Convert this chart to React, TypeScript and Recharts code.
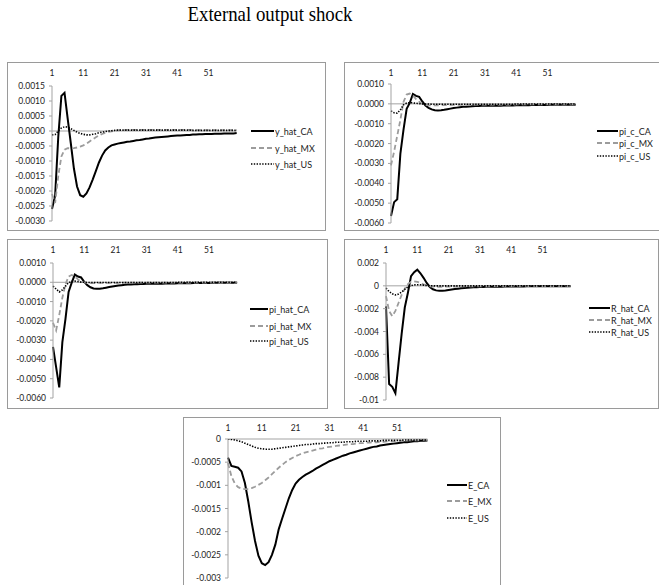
import React from 'react';
import { LineChart, Line, XAxis, YAxis, ReferenceLine, Legend } from 'recharts';

// Quarters after the shock
const periods: number[] = Array.from({ length: 60 }, (_, i) => i + 1);
const xTicks = [1, 11, 21, 31, 41, 51];

// ---- Output gap ----
const yHatCA = [
  -0.0026, -0.00215, -0.0002, 0.00117, 0.00127, 0.00042, -0.0004, -0.00125, -0.00185, -0.00214,
  -0.00219, -0.00208, -0.00188, -0.00162, -0.00134, -0.00105, -0.00082, -0.00065, -0.00055, -0.00048,
  -0.00045, -0.00042, -0.0004, -0.00038, -0.00036, -0.00035, -0.00033, -0.00031, -0.0003, -0.00028,
  -0.00026, -0.00025, -0.00023, -0.00022, -0.00021, -0.0002, -0.00019, -0.00018, -0.00017, -0.00016,
  -0.00015, -0.00015, -0.00014, -0.00013, -0.00013, -0.00012, -0.00012, -0.00011, -0.00011, -0.0001,
  -0.0001, -0.0001, -0.00009, -0.00009, -0.00009, -0.00008, -0.00008, -0.00008, -0.00008, -0.00007,
];
const yHatMX = [
  -0.0021, -0.0024, -0.0015, -0.00085, -0.00062, -0.00057, -0.00058, -0.00057, -0.00055, -0.00052,
  -0.00048, -0.00042, -0.00035, -0.00028, -0.00021, -0.00015, -0.0001, -0.00006, -0.00003, -0.00001,
  0.00001, 0.00002, 0.00003, 0.00003, 0.00004, 0.00004, 0.00004, 0.00004, 0.00004, 0.00004,
  0.00004, 0.00004, 0.00004, 0.00004, 0.00004, 0.00004, 0.00004, 0.00004, 0.00004, 0.00004,
  0.00004, 0.00004, 0.00004, 0.00004, 0.00004, 0.00003, 0.00003, 0.00003, 0.00003, 0.00003,
  0.00003, 0.00003, 0.00003, 0.00003, 0.00003, 0.00003, 0.00003, 0.00003, 0.00003, 0.00003,
];
const yHatUS = [
  -0.00013, -0.00012, 0.0, 0.0001, 0.00014, 0.00013, 0.00008, 0.00002, -0.00004, -0.00008,
  -0.00011, -0.00013, -0.00013, -0.00011, -0.00009, -0.00006, -0.00004, -0.00002, 0.0, 0.00001,
  0.00002, 0.00003, 0.00003, 0.00003, 0.00003, 0.00003, 0.00003, 0.00003, 0.00003, 0.00003,
  0.00003, 0.00003, 0.00003, 0.00003, 0.00003, 0.00003, 0.00003, 0.00003, 0.00003, 0.00003,
  0.00003, 0.00003, 0.00003, 0.00003, 0.00003, 0.00002, 0.00002, 0.00002, 0.00002, 0.00002,
  0.00002, 0.00002, 0.00002, 0.00002, 0.00002, 0.00002, 0.00002, 0.00002, 0.00002, 0.00002,
];

// ---- CPI inflation ----
const piCCA = [
  -0.00565, -0.00495, -0.0048, -0.0025, -0.0013, -0.00025, 0.00005, 0.0005, 0.0004, 0.00035,
  0.00012, -0.00008, -0.0002, -0.00028, -0.00032, -0.00033, -0.00032, -0.0003, -0.00027, -0.00024,
  -0.00021, -0.00019, -0.00017, -0.00015, -0.00014, -0.00013, -0.00012, -0.00011, -0.00011, -0.0001,
  -0.0001, -0.0001, -0.00009, -0.00009, -0.00009, -0.00009, -0.00008, -0.00008, -0.00008, -0.00008,
  -0.00007, -0.00007, -0.00007, -0.00007, -0.00007, -0.00006, -0.00006, -0.00006, -0.00006, -0.00006,
  -0.00006, -0.00005, -0.00005, -0.00005, -0.00005, -0.00005, -0.00005, -0.00005, -0.00005, -0.00005,
];
const piCMX = [
  -0.0031, -0.0024, -0.0016, -0.0008, 0.0001, 0.00047, 0.00052, 0.00042, 0.00024, 0.0001,
  0.0, -0.00005, -0.00007, -0.00008, -0.00008, -0.00007, -0.00007, -0.00006, -0.00006, -0.00006,
  -0.00005, -0.00005, -0.00005, -0.00005, -0.00005, -0.00005, -0.00005, -0.00004, -0.00004, -0.00004,
  -0.00004, -0.00004, -0.00004, -0.00004, -0.00004, -0.00004, -0.00004, -0.00004, -0.00004, -0.00004,
  -0.00003, -0.00003, -0.00003, -0.00003, -0.00003, -0.00003, -0.00003, -0.00003, -0.00003, -0.00003,
  -0.00003, -0.00003, -0.00003, -0.00003, -0.00003, -0.00003, -0.00003, -0.00003, -0.00003, -0.00003,
];
const piCUS = [
  -0.00035, -0.00045, -0.00047, -0.0003, -0.00005, 0.00004, 0.00006, 0.00005, 0.00003, 0.00001,
  0.0, -0.00001, -0.00001, -0.00002, -0.00002, -0.00002, -0.00002, -0.00002, -0.00002, -0.00002,
  -0.00002, -0.00002, -0.00002, -0.00002, -0.00002, -0.00002, -0.00002, -0.00002, -0.00002, -0.00002,
  -0.00002, -0.00002, -0.00002, -0.00002, -0.00002, -0.00002, -0.00002, -0.00002, -0.00002, -0.00002,
  -0.00001, -0.00001, -0.00001, -0.00001, -0.00001, -0.00001, -0.00001, -0.00001, -0.00001, -0.00001,
  -0.00001, -0.00001, -0.00001, -0.00001, -0.00001, -0.00001, -0.00001, -0.00001, -0.00001, -0.00001,
];

// ---- Domestic inflation ----
const piHatCA = [
  -0.00335, -0.0044, -0.00545, -0.0031, -0.0019, -0.0005, -0.00002, 0.0004, 0.0003, 0.00025,
  0.00002, -0.00015, -0.00026, -0.00032, -0.00034, -0.00033, -0.00031, -0.00028, -0.00025, -0.00022,
  -0.00019, -0.00017, -0.00015, -0.00013, -0.00012, -0.00011, -0.0001, -0.0001, -0.00009, -0.00009,
  -0.00008, -0.00008, -0.00008, -0.00007, -0.00007, -0.00007, -0.00006, -0.00006, -0.00006, -0.00006,
  -0.00005, -0.00005, -0.00005, -0.00005, -0.00005, -0.00004, -0.00004, -0.00004, -0.00004, -0.00004,
  -0.00004, -0.00004, -0.00003, -0.00003, -0.00003, -0.00003, -0.00003, -0.00003, -0.00003, -0.00003,
];
const piHatMX = [
  -0.0021, -0.0025, -0.0017, -0.0008, -0.0001, 0.0003, 0.00038, 0.0003, 0.00015, 0.00005,
  -0.00001, -0.00003, -0.00004, -0.00004, -0.00004, -0.00003, -0.00003, -0.00003, -0.00003, -0.00003,
  -0.00003, -0.00003, -0.00003, -0.00002, -0.00002, -0.00002, -0.00002, -0.00002, -0.00002, -0.00002,
  -0.00002, -0.00002, -0.00002, -0.00002, -0.00002, -0.00002, -0.00002, -0.00002, -0.00002, -0.00002,
  -0.00002, -0.00002, -0.00001, -0.00001, -0.00001, -0.00001, -0.00001, -0.00001, -0.00001, -0.00001,
  -0.00001, -0.00001, -0.00001, -0.00001, -0.00001, -0.00001, -0.00001, -0.00001, -0.00001, -0.00001,
];
const piHatUS = [
  -0.0002, -0.00035, -0.0005, -0.0004, -0.0002, -0.00002, 0.00005, 0.00006, 0.00004, 0.00001,
  0.0, -0.00001, -0.00001, -0.00001, -0.00001, -0.00001, -0.00001, -0.00001, -0.00001, -0.00001,
  -0.00001, -0.00001, -0.00001, -0.00001, -0.00001, -0.00001, -0.00001, -0.00001, -0.00001, -0.00001,
  -0.00001, -0.00001, -0.00001, -0.00001, -0.00001, -0.00001, -0.00001, -0.00001, -0.00001, -0.00001,
  0.0, 0.0, 0.0, 0.0, 0.0, 0.0, 0.0, 0.0, 0.0, 0.0,
  0.0, 0.0, 0.0, 0.0, 0.0, 0.0, 0.0, 0.0, 0.0, 0.0,
];

// ---- Policy rate ----
const rHatCA = [
  -0.0018, -0.0086, -0.00885, -0.0094, -0.0068, -0.0042, -0.0019, -0.0006, 0.00085, 0.0012,
  0.00142, 0.0011, 0.0007, 0.00025, -0.0001, -0.0003, -0.0004, -0.00044, -0.00043, -0.0004,
  -0.00036, -0.00032, -0.00028, -0.00025, -0.00022, -0.00019, -0.00017, -0.00015, -0.00013, -0.00012,
  -0.00011, -0.0001, -0.00009, -0.00009, -0.00008, -0.00008, -0.00007, -0.00007, -0.00006, -0.00006,
  -0.00006, -0.00005, -0.00005, -0.00005, -0.00005, -0.00004, -0.00004, -0.00004, -0.00004, -0.00004,
  -0.00004, -0.00003, -0.00003, -0.00003, -0.00003, -0.00003, -0.00003, -0.00003, -0.00003, -0.00003,
];
const rHatMX = [
  -0.0009, -0.0022, -0.00265, -0.0022, -0.0015, -0.0008, -0.00025, 0.00015, 0.00035, 0.0004,
  0.00035, 0.00025, 0.00012, 0.00002, -0.00004, -0.00007, -0.00008, -0.00008, -0.00008, -0.00007,
  -0.00007, -0.00006, -0.00006, -0.00006, -0.00005, -0.00005, -0.00005, -0.00005, -0.00004, -0.00004,
  -0.00004, -0.00004, -0.00004, -0.00004, -0.00003, -0.00003, -0.00003, -0.00003, -0.00003, -0.00003,
  -0.00003, -0.00003, -0.00003, -0.00003, -0.00002, -0.00002, -0.00002, -0.00002, -0.00002, -0.00002,
  -0.00002, -0.00002, -0.00002, -0.00002, -0.00002, -0.00002, -0.00002, -0.00002, -0.00002, -0.00002,
];
const rHatUS = [
  -0.0002, -0.0005, -0.0007, -0.0008, -0.00072, -0.00055, -0.0003, -0.0001, 0.00002, 0.00008,
  0.0001, 0.00009, 0.00006, 0.00003, 0.00001, 0.0, 0.0, 0.0, 0.0, 0.0,
  0.0, 0.0, 0.0, 0.0, 0.0, 0.0, 0.0, 0.0, 0.0, 0.0,
  0.0, 0.0, 0.0, 0.0, 0.0, 0.0, 0.0, 0.0, 0.0, 0.0,
  0.0, 0.0, 0.0, 0.0, 0.0, 0.0, 0.0, 0.0, 0.0, 0.0,
  0.0, 0.0, 0.0, 0.0, 0.0, 0.0, 0.0, 0.0, 0.0, 0.0,
];

// ---- Nominal exchange rate ----
const eCA = [
  -0.0004, -0.00058, -0.0006, -0.00062, -0.0007, -0.00095, -0.00135, -0.0018, -0.0022, -0.00252,
  -0.00268, -0.00272, -0.00266, -0.0025, -0.00228, -0.00195, -0.00172, -0.0015, -0.00128, -0.0011,
  -0.00096, -0.00088, -0.00082, -0.00077, -0.00073, -0.00069, -0.00064, -0.0006, -0.00056, -0.00052,
  -0.00048, -0.00045, -0.00042, -0.00039, -0.00036, -0.00034, -0.00031, -0.00029, -0.00027, -0.00025,
  -0.00023, -0.00021, -0.00019, -0.00017, -0.00016, -0.00014, -0.00013, -0.00012, -0.00011, -0.0001,
  -0.00009, -0.00008, -0.00007, -0.00007, -0.00006, -0.00005, -0.00005, -0.00004, -0.00004, -0.00003,
];
const eMX = [
  -0.00052, -0.0008, -0.00096, -0.00104, -0.00107, -0.00108, -0.00108, -0.00106, -0.00103, -0.00099,
  -0.00095, -0.00089, -0.00083, -0.00076, -0.00069, -0.00062, -0.00056, -0.0005, -0.00045, -0.00041,
  -0.00037, -0.00034, -0.00031, -0.00029, -0.00027, -0.00025, -0.00023, -0.00021, -0.0002, -0.00018,
  -0.00017, -0.00016, -0.00015, -0.00014, -0.00013, -0.00012, -0.00011, -0.00011, -0.0001, -0.00009,
  -0.00009, -0.00008, -0.00008, -0.00007, -0.00007, -0.00006, -0.00006, -0.00005, -0.00005, -0.00005,
  -0.00004, -0.00004, -0.00004, -0.00003, -0.00003, -0.00003, -0.00003, -0.00003, -0.00002, -0.00002,
];
const eUS = [
  0.0, -0.00001, -0.00002, -0.00004, -0.00006, -0.00009, -0.00012, -0.00015, -0.00018, -0.0002,
  -0.00021, -0.00022, -0.00022, -0.00022, -0.00021, -0.0002, -0.00019, -0.00018, -0.00017, -0.00016,
  -0.00015, -0.00014, -0.00013, -0.00012, -0.00012, -0.00011, -0.0001, -0.0001, -0.00009, -0.00009,
  -0.00008, -0.00008, -0.00007, -0.00007, -0.00007, -0.00006, -0.00006, -0.00006, -0.00005, -0.00005,
  -0.00005, -0.00005, -0.00004, -0.00004, -0.00004, -0.00004, -0.00003, -0.00003, -0.00003, -0.00003,
  -0.00003, -0.00003, -0.00002, -0.00002, -0.00002, -0.00002, -0.00002, -0.00002, -0.00002, -0.00002,
];

// Value-axis ticks and their printed labels
const ticks4dA = [-0.003, -0.0025, -0.002, -0.0015, -0.001, -0.0005, 0, 0.0005, 0.001, 0.0015];
const labels4dA = ['-0.0030', '-0.0025', '-0.0020', '-0.0015', '-0.0010', '-0.0005', '0.0000', '0.0005', '0.0010', '0.0015'];
const ticks4dB = [-0.006, -0.005, -0.004, -0.003, -0.002, -0.001, 0, 0.001];
const labels4dB = ['-0.0060', '-0.0050', '-0.0040', '-0.0030', '-0.0020', '-0.0010', '0.0000', '0.0010'];
const ticksR = [-0.01, -0.008, -0.006, -0.004, -0.002, 0, 0.002];
const labelsR = ['-0.01', '-0.008', '-0.006', '-0.004', '-0.002', '0', '0.002'];
const ticksE = [-0.003, -0.0025, -0.002, -0.0015, -0.001, -0.0005, 0];
const labelsE = ['-0.003', '-0.0025', '-0.002', '-0.0015', '-0.001', '-0.0005', '0'];

const TITLE = 'External output shock';

type PanelSpec = {
  names: [string, string, string];
  ca: number[];
  mx: number[];
  us: number[];
  ticks: number[];
  tickLabels: string[];
  box: { left: number; top: number; width: number; height: number };
  axisX: number;
  plotTop: number;
  plotBottom: number;
  step: number;
  xLabelMargin: number;
  legend: { x: number; len: number; rows: number[] };
};

const panels: PanelSpec[] = [
  {
    names: ['y_hat_CA', 'y_hat_MX', 'y_hat_US'],
    ca: yHatCA, mx: yHatMX, us: yHatUS,
    ticks: ticks4dA, tickLabels: labels4dA,
    box: { left: 7, top: 62, width: 319, height: 169 },
    axisX: 45, plotTop: 24, plotBottom: 159, step: 3.13, xLabelMargin: 10,
    legend: { x: 244, len: 23, rows: [69, 86, 102] },
  },
  {
    names: ['pi_c_CA', 'pi_c_MX', 'pi_c_US'],
    ca: piCCA, mx: piCMX, us: piCUS,
    ticks: ticks4dB, tickLabels: labels4dB,
    box: { left: 344, top: 62, width: 324, height: 169 },
    axisX: 47, plotTop: 22, plotBottom: 161, step: 3.13, xLabelMargin: 8,
    legend: { x: 253, len: 21, rows: [69, 81, 94] },
  },
  {
    names: ['pi_hat_CA', 'pi_hat_MX', 'pi_hat_US'],
    ca: piHatCA, mx: piHatMX, us: piHatUS,
    ticks: ticks4dB, tickLabels: labels4dB,
    box: { left: 7, top: 239, width: 321, height: 170 },
    axisX: 46, plotTop: 24, plotBottom: 159, step: 3.12, xLabelMargin: 10,
    legend: { x: 243, len: 18, rows: [70, 87, 102] },
  },
  {
    names: ['R_hat_CA', 'R_hat_MX', 'R_hat_US'],
    ca: rHatCA, mx: rHatMX, us: rHatUS,
    ticks: ticksR, tickLabels: labelsR,
    box: { left: 344, top: 239, width: 315, height: 170 },
    axisX: 42, plotTop: 24, plotBottom: 161, step: 3.13, xLabelMargin: 10,
    legend: { x: 245, len: 21, rows: [69, 81, 93] },
  },
  {
    names: ['E_CA', 'E_MX', 'E_US'],
    ca: eCA, mx: eMX, us: eUS,
    ticks: ticksE, tickLabels: labelsE,
    box: { left: 183, top: 417, width: 318, height: 180 },
    axisX: 45, plotTop: 22, plotBottom: 161, step: 3.38, xLabelMargin: 8,
    legend: { x: 264, len: 20, rows: [68, 84, 101] },
  },
];

const FONT = 'Lato, "Open Sans", sans-serif';
const AXIS_GREY = '#a3a3a3';
const TEXT = '#1c1c1c';

const lineStyles = [
  { key: 'ca', stroke: '#000000', width: 2, dash: undefined as string | undefined },
  { key: 'mx', stroke: '#9c9c9c', width: 1.8, dash: '5 3' },
  { key: 'us', stroke: '#000000', width: 1.6, dash: '1.4 1.4' },
];

function LegendRows({ spec }: { spec: PanelSpec }) {
  const { len, rows } = spec.legend;
  const top = rows[0] - 8;
  return (
    <svg width={80} height={rows[rows.length - 1] - rows[0] + 16} style={{ display: 'block', overflow: 'visible' }}>
      {spec.names.map((name, i) => {
        const y = rows[i] - top;
        const st = lineStyles[i];
        return (
          <g key={name}>
            <line x1={0} x2={len} y1={y} y2={y} stroke={st.stroke} strokeWidth={st.width} strokeDasharray={st.dash} />
            <text x={len + 1} y={y} dominantBaseline="central" fontFamily={FONT} fontSize={9} fill={TEXT}>
              {name}
            </text>
          </g>
        );
      })}
    </svg>
  );
}

function ChartPanel({ spec }: { spec: PanelSpec }) {
  const data = periods.map((t, i) => ({ t, ca: spec.ca[i], mx: spec.mx[i], us: spec.us[i] }));
  const YW = 40;
  const XH = 20;
  const plotRight = spec.axisX + spec.step * (periods.length - 1);
  const margin = {
    top: spec.plotTop - XH,
    left: spec.axisX - YW,
    right: spec.box.width - plotRight,
    bottom: spec.box.height - spec.plotBottom,
  };
  const fmt = (v: number) => {
    const idx = spec.ticks.findIndex((t) => Math.abs(t - v) < 1e-12);
    return idx >= 0 ? spec.tickLabels[idx] : '';
  };
  const lo = spec.ticks[0];
  const hi = spec.ticks[spec.ticks.length - 1];
  return (
    <>
      <div
        style={{
          position: 'absolute',
          left: spec.box.left,
          top: spec.box.top,
          width: spec.box.width,
          height: spec.box.height,
          border: '1px solid #9a9a9a',
          boxSizing: 'border-box',
          background: '#ffffff',
        }}
      />
      <div style={{ position: 'absolute', left: spec.box.left, top: spec.box.top }}>
        <LineChart width={spec.box.width} height={spec.box.height} data={data} margin={margin}>
          <XAxis
            dataKey="t"
            type="number"
            domain={[1, 60]}
            ticks={xTicks}
            orientation="top"
            height={XH}
            axisLine={false}
            tickLine={false}
            tickSize={0}
            tickMargin={spec.xLabelMargin}
            interval={0}
            tick={{ fontFamily: FONT, fontSize: 8.5, fill: TEXT }}
          />
          <YAxis
            type="number"
            domain={[lo, hi]}
            ticks={spec.ticks}
            width={YW}
            interval={0}
            axisLine={{ stroke: AXIS_GREY, strokeWidth: 1 }}
            tickLine={{ stroke: AXIS_GREY, strokeWidth: 1 }}
            tickSize={3}
            tickMargin={4}
            tickFormatter={fmt}
            tick={{ fontFamily: FONT, fontSize: 8.5, fill: TEXT }}
            allowDataOverflow
          />
          <ReferenceLine y={0} stroke={AXIS_GREY} strokeWidth={1} />
          {lineStyles.map((st) => (
            <Line
              key={st.key}
              type="linear"
              dataKey={st.key}
              stroke={st.stroke}
              strokeWidth={st.width}
              strokeDasharray={st.dash}
              dot={false}
              activeDot={false}
              isAnimationActive={false}
            />
          ))}
          <Legend
            layout="horizontal"
            verticalAlign="middle"
            align="center"
            wrapperStyle={{ left: spec.legend.x, top: spec.legend.rows[0] - 8, width: 80 }}
            content={() => <LegendRows spec={spec} />}
          />
        </LineChart>
      </div>
    </>
  );
}

export default function App() {
  return (
    <div
      style={{
        position: 'fixed',
        left: 0,
        top: 0,
        width: 659,
        height: 585,
        background: '#ffffff',
        overflow: 'hidden',
      }}
    >
      <svg width={659} height={40} style={{ position: 'absolute', left: 0, top: 0 }}>
        <text
          x={270}
          y={21}
          textAnchor="middle"
          fontFamily='"Liberation Serif", "Times New Roman", serif'
          fontSize={21}
          textLength={165}
          lengthAdjust="spacingAndGlyphs"
          fill="#000"
        >
          {TITLE}
        </text>
      </svg>
      {panels.map((p) => (
        <ChartPanel key={p.names[0]} spec={p} />
      ))}
    </div>
  );
}
